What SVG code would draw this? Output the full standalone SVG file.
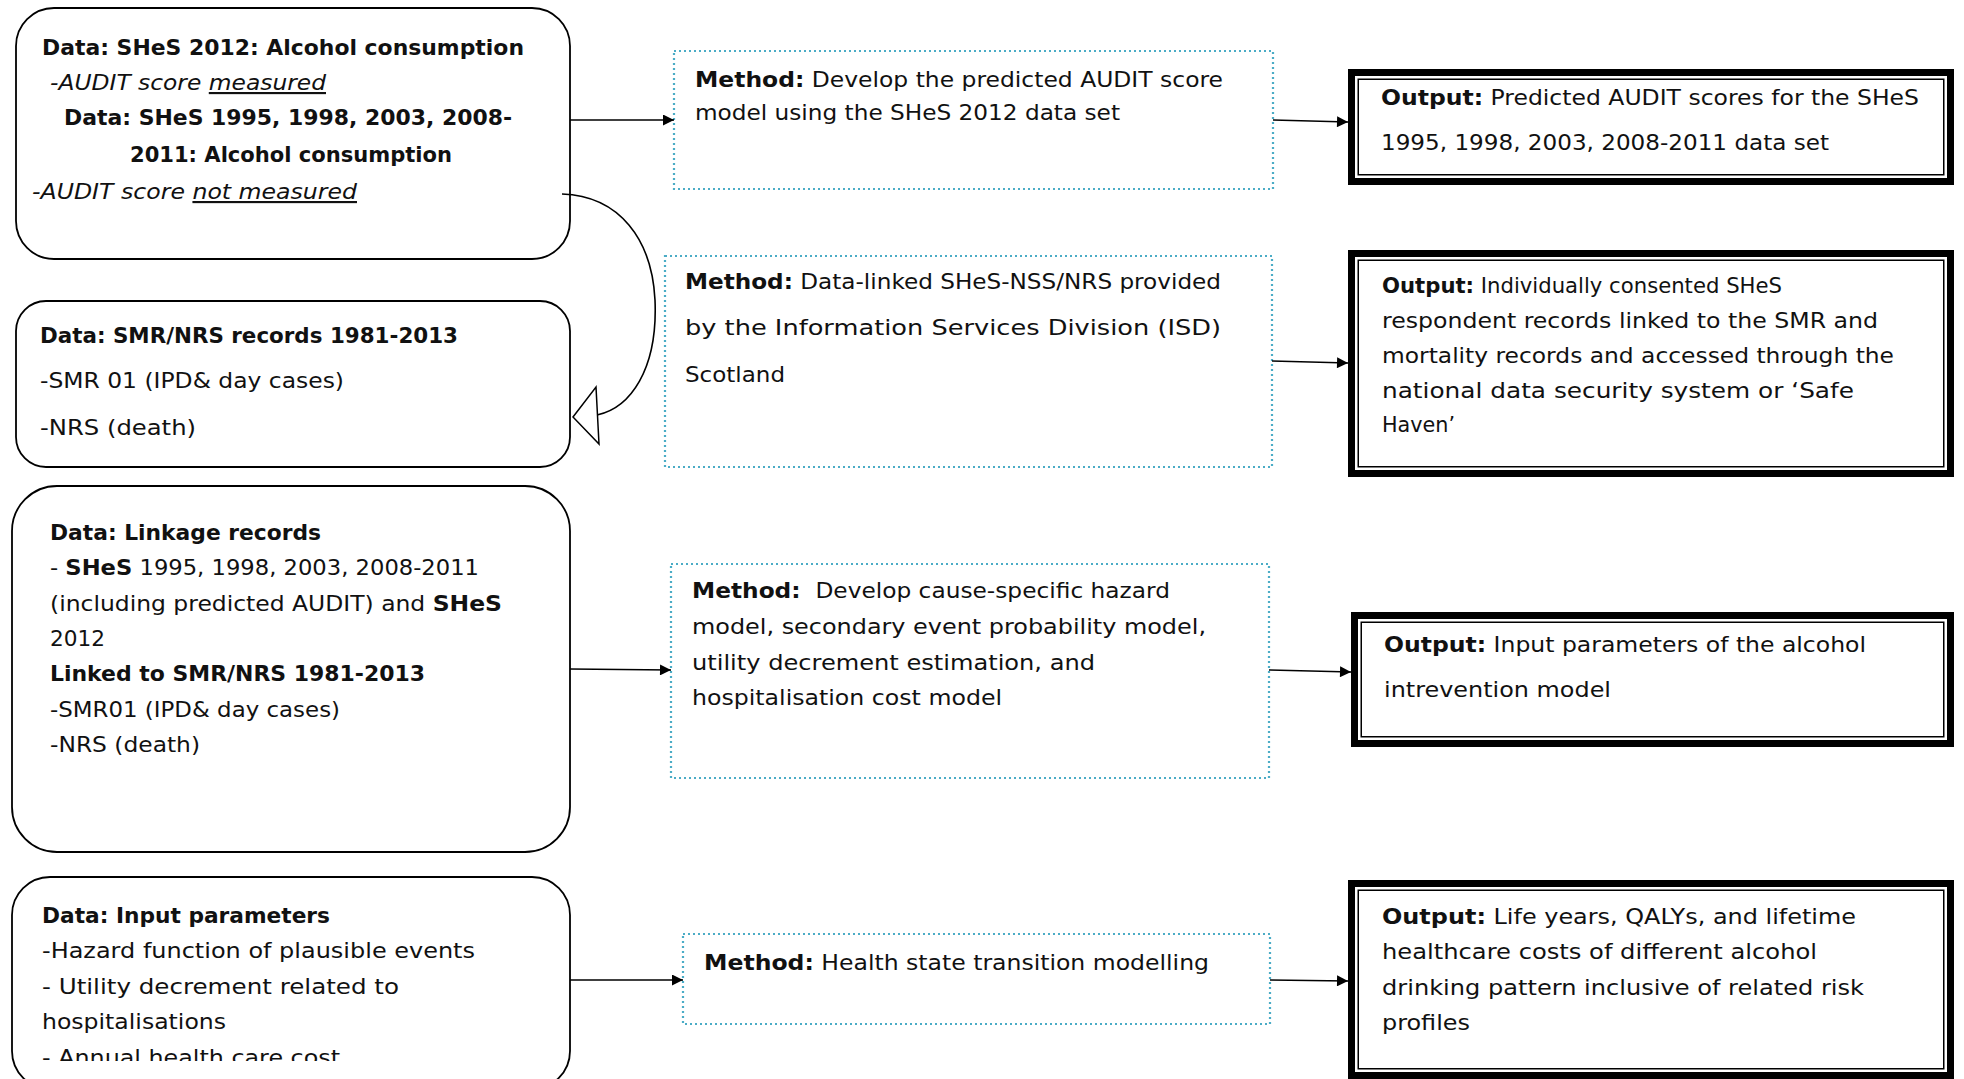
<svg xmlns="http://www.w3.org/2000/svg" width="1964" height="1079" viewBox="0 0 1964 1079">
  <defs>
    <style>
      .t { font-family: "DejaVu Sans", "Liberation Sans", sans-serif; font-size: 21.5px; fill: #111; }
      .b { font-weight: bold; }
      .i { font-style: italic; }
      .u { text-decoration: underline; }
      .data { fill: #fff; stroke: #000; stroke-width: 1.8; }
      .method { fill: #fff; stroke: #4bacc6; stroke-width: 2.2; stroke-dasharray: 2 3; }
      .outer { fill: #fff; stroke: #000; stroke-width: 7; }
      .inner { fill: none; stroke: #000; stroke-width: 1.5; }
      .conn { fill: none; stroke: #000; stroke-width: 1.6; }
    </style>
    <marker id="arrow" viewBox="0 0 10 10" refX="10" refY="5" markerUnits="userSpaceOnUse" markerWidth="13" markerHeight="11" orient="auto">
      <path d="M0,0 L10,5 L0,10 z" fill="#000"/>
    </marker>
    <clipPath id="clipD4">
      <rect x="14" y="879" width="554" height="182"/>
    </clipPath>
  </defs>

  <!-- Data boxes (rounded) -->
  <g id="data-shes">
    <rect class="data" x="16" y="8" width="554" height="251" rx="38"/>
    <text class="t b" x="42" y="55" textLength="482" lengthAdjust="spacingAndGlyphs">Data: SHeS 2012: Alcohol consumption</text>
    <text class="t i" x="50" y="90" textLength="276" lengthAdjust="spacingAndGlyphs">-AUDIT score <tspan class="u">measured</tspan></text>
    <text class="t b" x="64" y="125" textLength="448" lengthAdjust="spacingAndGlyphs">Data: SHeS 1995, 1998, 2003, 2008-</text>
    <text class="t b" x="130" y="162" textLength="322" lengthAdjust="spacingAndGlyphs">2011: Alcohol consumption</text>
    <text class="t i" x="32" y="199" textLength="325" lengthAdjust="spacingAndGlyphs">-AUDIT score <tspan class="u">not measured</tspan></text>
  </g>

  <g id="data-smr">
    <rect class="data" x="16" y="301" width="554" height="166" rx="30"/>
    <text class="t b" x="40" y="343" textLength="418" lengthAdjust="spacingAndGlyphs">Data: SMR/NRS records 1981-2013</text>
    <text class="t" x="40" y="388" textLength="304" lengthAdjust="spacingAndGlyphs">-SMR 01 (IPD&amp; day cases)</text>
    <text class="t" x="40" y="435" textLength="156" lengthAdjust="spacingAndGlyphs">-NRS (death)</text>
  </g>

  <g id="data-linkage">
    <rect class="data" x="12" y="486" width="558" height="366" rx="45"/>
    <text class="t b" x="50" y="540" textLength="271" lengthAdjust="spacingAndGlyphs">Data: Linkage records</text>
    <text class="t" x="50" y="575" textLength="429" lengthAdjust="spacingAndGlyphs">- <tspan class="b">SHeS</tspan> 1995, 1998, 2003, 2008-2011</text>
    <text class="t" x="50" y="611" textLength="452" lengthAdjust="spacingAndGlyphs">(including predicted AUDIT) and <tspan class="b">SHeS</tspan></text>
    <text class="t" x="50" y="646" textLength="55" lengthAdjust="spacingAndGlyphs">2012</text>
    <text class="t b" x="50" y="681" textLength="375" lengthAdjust="spacingAndGlyphs">Linked to SMR/NRS 1981-2013</text>
    <text class="t" x="50" y="717" textLength="290" lengthAdjust="spacingAndGlyphs">-SMR01 (IPD&amp; day cases)</text>
    <text class="t" x="50" y="752" textLength="150" lengthAdjust="spacingAndGlyphs">-NRS (death)</text>
  </g>

  <g id="data-inputs">
    <rect class="data" x="12" y="877" width="558" height="212" rx="38"/>
    <text class="t b" x="42" y="923" textLength="288" lengthAdjust="spacingAndGlyphs">Data: Input parameters</text>
    <text class="t" x="42" y="958" textLength="433" lengthAdjust="spacingAndGlyphs">-Hazard function of plausible events</text>
    <text class="t" x="42" y="994" textLength="357" lengthAdjust="spacingAndGlyphs">- Utility decrement related to</text>
    <text class="t" x="42" y="1029" textLength="184" lengthAdjust="spacingAndGlyphs">hospitalisations</text>
    <text class="t" x="42" y="1065" textLength="298" lengthAdjust="spacingAndGlyphs" clip-path="url(#clipD4)">- Annual health care cost</text>
  </g>

  <!-- Method boxes (dotted) -->
  <g id="method-audit">
    <rect class="method" x="674" y="51" width="599" height="138"/>
    <text class="t" x="695" y="87" textLength="528" lengthAdjust="spacingAndGlyphs"><tspan class="b">Method:</tspan> Develop the predicted AUDIT score</text>
    <text class="t" x="695" y="120" textLength="425" lengthAdjust="spacingAndGlyphs">model using the SHeS 2012 data set</text>
  </g>

  <g id="method-linkage">
    <rect class="method" x="665" y="256" width="607" height="211"/>
    <text class="t" x="685" y="289" textLength="536" lengthAdjust="spacingAndGlyphs"><tspan class="b">Method:</tspan> Data-linked SHeS-NSS/NRS provided</text>
    <text class="t" x="685" y="335" textLength="536" lengthAdjust="spacingAndGlyphs">by the Information Services Division (ISD)</text>
    <text class="t" x="685" y="382" textLength="100" lengthAdjust="spacingAndGlyphs">Scotland</text>
  </g>

  <g id="method-models">
    <rect class="method" x="671" y="564" width="598" height="214"/>
    <text class="t" x="692" y="598" textLength="478" lengthAdjust="spacingAndGlyphs"><tspan class="b">Method:</tspan>&#160; Develop cause-specific hazard</text>
    <text class="t" x="692" y="634" textLength="514" lengthAdjust="spacingAndGlyphs">model, secondary event probability model,</text>
    <text class="t" x="692" y="670" textLength="403" lengthAdjust="spacingAndGlyphs">utility decrement estimation, and</text>
    <text class="t" x="692" y="705" textLength="310" lengthAdjust="spacingAndGlyphs">hospitalisation cost model</text>
  </g>

  <g id="method-transition">
    <rect class="method" x="683" y="934" width="587" height="90"/>
    <text class="t" x="704" y="970" textLength="505" lengthAdjust="spacingAndGlyphs"><tspan class="b">Method:</tspan> Health state transition modelling</text>
  </g>

  <!-- Output boxes (thick-thin frame) -->
  <g id="output-audit">
    <rect class="outer" x="1351.5" y="72.5" width="599" height="109"/>
    <rect class="inner" x="1358.25" y="79.25" width="585.5" height="95.5"/>
    <text class="t" x="1381" y="105" textLength="538" lengthAdjust="spacingAndGlyphs"><tspan class="b">Output:</tspan> Predicted AUDIT scores for the SHeS</text>
    <text class="t" x="1381" y="150" textLength="448" lengthAdjust="spacingAndGlyphs">1995, 1998, 2003, 2008-2011 data set</text>
  </g>

  <g id="output-linked">
    <rect class="outer" x="1351.5" y="253.5" width="599" height="220"/>
    <rect class="inner" x="1358.25" y="260.25" width="585.5" height="206.5"/>
    <text class="t" x="1382" y="293" textLength="400" lengthAdjust="spacingAndGlyphs"><tspan class="b">Output:</tspan> Individually consented SHeS</text>
    <text class="t" x="1382" y="328" textLength="496" lengthAdjust="spacingAndGlyphs">respondent records linked to the SMR and</text>
    <text class="t" x="1382" y="363" textLength="512" lengthAdjust="spacingAndGlyphs">mortality records and accessed through the</text>
    <text class="t" x="1382" y="398" textLength="472" lengthAdjust="spacingAndGlyphs">national data security system or ‘Safe</text>
    <text class="t" x="1382" y="432" textLength="73" lengthAdjust="spacingAndGlyphs">Haven’</text>
  </g>

  <g id="output-parameters">
    <rect class="outer" x="1354.5" y="615.5" width="596" height="128"/>
    <rect class="inner" x="1361.25" y="622.25" width="582.5" height="114.5"/>
    <text class="t" x="1384" y="652" textLength="482" lengthAdjust="spacingAndGlyphs"><tspan class="b">Output:</tspan> Input parameters of the alcohol</text>
    <text class="t" x="1384" y="697" textLength="227" lengthAdjust="spacingAndGlyphs">intrevention model</text>
  </g>

  <g id="output-outcomes">
    <rect class="outer" x="1351.5" y="883.5" width="599" height="192"/>
    <rect class="inner" x="1358.25" y="890.25" width="585.5" height="178.5"/>
    <text class="t" x="1382" y="924" textLength="474" lengthAdjust="spacingAndGlyphs"><tspan class="b">Output:</tspan> Life years, QALYs, and lifetime</text>
    <text class="t" x="1382" y="959" textLength="435" lengthAdjust="spacingAndGlyphs">healthcare costs of different alcohol</text>
    <text class="t" x="1382" y="995" textLength="482" lengthAdjust="spacingAndGlyphs">drinking pattern inclusive of related risk</text>
    <text class="t" x="1382" y="1030" textLength="88" lengthAdjust="spacingAndGlyphs">profiles</text>
  </g>

  <!-- Connectors -->
  <g id="connectors">
    <line class="conn" x1="570" y1="120" x2="674" y2="120" marker-end="url(#arrow)"/>
    <line class="conn" x1="1273" y1="120" x2="1348" y2="122" marker-end="url(#arrow)"/>
    <path class="conn" d="M562,194 C620,196 652,240 655,300 C658,370 630,408 597,415"/>
    <polygon points="573,417 596,387 599,444" fill="#fff" stroke="#000" stroke-width="1.5"/>
    <line class="conn" x1="1272" y1="361" x2="1348" y2="363" marker-end="url(#arrow)"/>
    <line class="conn" x1="570" y1="669" x2="671" y2="670" marker-end="url(#arrow)"/>
    <line class="conn" x1="1269" y1="670" x2="1351" y2="672" marker-end="url(#arrow)"/>
    <line class="conn" x1="570" y1="980" x2="683" y2="980" marker-end="url(#arrow)"/>
    <line class="conn" x1="1270" y1="980" x2="1348" y2="981" marker-end="url(#arrow)"/>
  </g>
</svg>
